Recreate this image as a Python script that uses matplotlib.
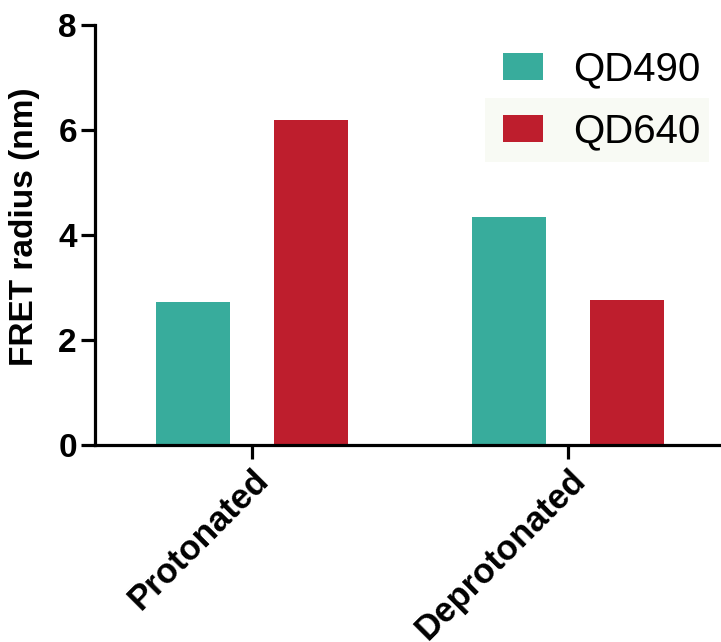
import numpy as np
import matplotlib
matplotlib.use('Agg')
import matplotlib.pyplot as plt
from matplotlib.patches import Rectangle

plt.rcParams['font.family'] = ['Liberation Sans', 'DejaVu Sans']

states = ['Protonated', 'Deprotonated']
qd490 = [2.72, 4.34]
qd640 = [6.19, 2.76]
y_ticks = [0, 2, 4, 6, 8]

teal = '#38ac9c'
red = '#be1e2d'

fig = plt.figure(figsize=(7.21, 6.42), dpi=100)
ax = fig.add_axes([0.1318, 0.307, 0.867, 0.654])

x = np.arange(len(states))
w = 0.234
off = 0.187
ax.bar(x - off, qd490, w, color=teal, label='QD490')
ax.bar(x + off, qd640, w, color=red, label='QD640')

ax.set_xlim(-0.497, 1.48)
ax.set_ylim(0, 8)
ax.set_yticks(y_ticks)
ax.set_yticklabels([str(v) for v in y_ticks], fontsize=24, fontweight='bold')
ax.set_xticks(x)
ax.set_xticklabels(states, fontsize=25, fontweight='bold', rotation=45,
                   ha='right', rotation_mode='anchor')
ax.set_ylabel('FRET radius (nm)', fontsize=24, fontweight='bold')
ax.yaxis.set_label_coords(-0.088, 0.52)

for s in ['top', 'right']:
    ax.spines[s].set_visible(False)
for s in ['left', 'bottom']:
    ax.spines[s].set_linewidth(2.3)
ax.tick_params(axis='both', width=2.3, length=10, direction='out', pad=3)

# faint shaded strip behind the second legend row
ax.add_patch(Rectangle((485 / 721, 1 - 162 / 642), 224 / 721, 64 / 642,
                       transform=fig.transFigure, facecolor='#f8faf4',
                       edgecolor='none', zorder=0.5, clip_on=False))

ax.legend(loc='upper right', bbox_to_anchor=(1.027, 1.026), frameon=False,
          fontsize=29, handlelength=1.0, handleheight=0.65,
          handletextpad=0.75, labelspacing=0.6)

fig.savefig('out.png', dpi=100)
